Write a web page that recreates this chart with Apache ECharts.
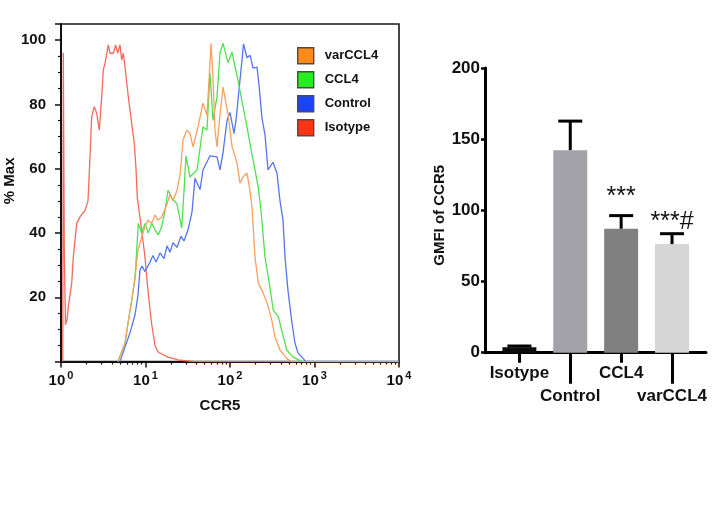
<!DOCTYPE html>
<html><head><meta charset="utf-8">
<script src="https://cdn.jsdelivr.net/npm/echarts@6/dist/echarts.min.js"></script>
<style>html,body{margin:0;padding:0;background:#fff}#c{width:720px;height:507px}</style>
</head><body><div id="c"></div>
<script>
// ---- Histogram data: [CCR5 intensity, % Max] ----
const histIsotype = [[1.05,0],[1.065,96],[1.094,34],[1.13,11.5],[1.178,13],[1.22,17],[1.339,24.4],[1.398,32.5],[1.534,43],[1.678,45],[1.923,47],[2.087,50],[2.204,63.7],[2.308,76.2],[2.478,79.3],[2.646,77.2],[2.84,72],[3.032,82.4],[3.168,90.7],[3.317,92.8],[3.629,98.5],[3.80,95.9],[4.159,95.9],[4.441,98.5],[4.688,95.9],[4.99,98.5],[5.23,93.8],[5.461,95.9],[5.72,91.7],[6.26,82.4],[6.866,74.1],[7.37,67.9],[7.72,60],[8.0,51],[8.38,47],[9.09,40],[9.86,32.5],[10.7,22],[11.78,12],[12.95,5],[14.06,3],[18.46,1.4],[24.26,0.5],[38.5,0],[10000,0]];
const histControl = [[4.99,0],[5.72,4.5],[6.556,9],[7.51,14.5],[8.15,20.7],[8.61,28.5],[9.09,29.7],[9.86,28],[11.31,31],[12.27,33],[13.31,31],[14.85,33.8],[16.56,32],[17.97,36],[19.5,34],[21.16,37],[23.6,35.5],[26.3,39],[28.55,37.5],[31.84,41],[35.5,46.5],[38.5,57],[44.2,53.5],[47.9,59.6],[58.0,64],[70.2,63.7],[76.2,59.6],[82.7,65],[92.1,75],[100,77.5],[111.5,71],[117.8,75],[127.8,84.5],[138.7,93.8],[144.5,98.8],[158.9,94.5],[172.5,95.3],[187.2,91.3],[208.7,91.6],[220.4,86],[239.1,75.7],[259.6,70.5],[281.7,59.6],[322.8,62],[359.9,58.6],[390.6,50],[423.9,44],[447.7,32.5],[485.8,22],[541.6,12],[587.8,5.7],[637.9,2.7],[731,1],[793,0],[10000,0]];
const histCCL4 = [[4.728,0],[5.72,5.7],[6.21,12],[6.866,19],[7.51,26],[7.87,34.7],[8.22,43],[9.02,40],[9.86,43],[10.79,40],[11.84,43],[12.95,41],[14.17,39.4],[15.55,42],[17.02,47],[18.46,53.3],[20.59,51],[23.6,49],[26.82,41.5],[28.55,53],[30.16,64],[33.62,57.4],[40.7,59.6],[47.9,73],[53.4,72],[58.0,89.7],[62.9,75],[70.2,82.4],[76.2,96],[82.7,99],[94.7,93],[105.6,96.3],[114.6,91.7],[121.0,89],[138.7,81],[158.9,73],[177.3,66],[197.7,59.6],[216.3,54],[232.8,47],[259.6,32.5],[284.0,26.3],[325.4,16],[372.9,14],[409.1,9.8],[468.8,3.6],[561.2,1.4],[711,0],[10000,0]];
const histVarCCL4 = [[4.728,0],[5.72,5.7],[6.21,12],[6.866,19],[7.51,26],[8.15,34.7],[8.85,38],[9.86,42],[10.7,44],[11.84,43],[12.95,45.6],[14.06,44],[15.55,45],[17.82,48.7],[19.5,52],[21.16,50],[23.6,53.3],[25.6,58],[27.8,69],[30.98,72],[33.62,71],[36.5,66.7],[41.8,73],[47.9,80.4],[53.4,76.5],[58.0,93],[59.6,99],[62.9,88.5],[66.45,72],[70.2,66.8],[76.2,77],[82.7,85.4],[94.7,77],[105.6,67],[121.0,61.8],[131.3,55.5],[142.5,57.5],[158.9,58.6],[172.5,53],[182.1,48],[197.7,32.5],[216.3,24.4],[247.9,21.3],[284.0,17],[311.5,13],[340.9,7.7],[390.6,3.6],[468.8,1],[527,0],[10000,0]];
const histTickSup = ['0','1','2','3','4'];
const histMinorMult = [2,3,4,5,6,7,8,9];
const histDecades = [0,1,2,3];

// ---- Bar chart data ----
const barCategories = ['Isotype','Control','CCL4','varCCL4'];
const barMeans = [3.8, 142.3, 87.1, 76.3];
const barErrors = [0.9, 20.4, 9.2, 7.3];
const barSig = ['', '', '***', '***#'];

// styles
const FONT = 'Liberation Sans, Arial, sans-serif';
const barColors = ['#0c0c0c', '#a2a2a8', '#808080', '#d5d5d5'];
const sigGap = [0, 0, 19, 12];
const lineColors = { Isotype:'#f26a5a', Control:'#5575ee', CCL4:'#4fe04f', varCCL4:'#f8a060' };
const legendColors = { varCCL4:'#ff8a1e', CCL4:'#22ee22', Control:'#1a44ff', Isotype:'#ff3414' };

const minorTicks = [];
histDecades.forEach(k => histMinorMult.forEach(m => minorTicks.push(Math.log10(m) + k)));

const chart = echarts.init(document.getElementById('c'));
const lineSeries = (name, data) => ({
  name, type:'line', data, xAxisIndex:0, yAxisIndex:0, showSymbol:false, symbol:'none',
  lineStyle:{ color: lineColors[name], width:1.3 }, itemStyle:{ color: lineColors[name] },
  animation:false
});

chart.setOption({
  animation:false,
  backgroundColor:'#fff',
  grid:[
    { left:61, right:321, top:24, bottom:145.4, show:true, borderColor:'#1a1a1a', borderWidth:1.6, containLabel:false },
    { left:485, right:14, top:68, bottom:154.3, containLabel:false }
  ],
  legend:{
    orient:'vertical', left:297, top:47, padding:0, itemWidth:16, itemHeight:16, itemGap:6.6,
    icon:'rect', selectedMode:false,
    itemStyle:{ borderColor:'#55483f', borderWidth:1.4 },
    textStyle:{ fontFamily:FONT, fontWeight:'bold', fontSize:13, color:'#111', padding:[0,0,0,6] },
    data: ['varCCL4','CCL4','Control','Isotype'].map(n => ({ name:n, itemStyle:{ color: legendColors[n] } }))
  },
  xAxis:[
    { gridIndex:0, type:'log', logBase:10, min:1, max:10000, position:'bottom',
      axisLine:{ onZero:false, lineStyle:{ color:'#111', width:2 } },
      axisTick:{ show:true, length:6, lineStyle:{ color:'#111', width:1.5 } },
      splitLine:{ show:false }, minorTick:{ show:false },
      axisLabel:{ margin:9, color:'#111',
        formatter: v => '{b|10}{s|' + histTickSup[Math.round(Math.log10(v))] + '}',
        rich:{ b:{ fontFamily:FONT, fontWeight:'bold', fontSize:15, color:'#111' },
               s:{ fontFamily:FONT, fontWeight:'bold', fontSize:11, color:'#111', padding:[0,0,9,2] } } },
      name:'CCR5', nameLocation:'middle', nameGap:37,
      nameTextStyle:{ fontFamily:FONT, fontWeight:'bold', fontSize:15, color:'#111', padding:[0,20,0,0] }
    },
    { gridIndex:0, type:'value', min:0, max:4, position:'bottom',
      axisLine:{ show:false, onZero:false }, axisLabel:{ show:false }, splitLine:{ show:false },
      axisTick:{ show:true, length:3, customValues:minorTicks, lineStyle:{ color:'#111', width:1.2 } }
    },
    { gridIndex:1, type:'value', min:-0.676, max:3.668, position:'bottom',
      axisLine:{ onZero:false, lineStyle:{ color:'#000', width:3 } },
      splitLine:{ show:false },
      axisTick:{ show:true, length:10, customValues:[0,1,2,3], lineStyle:{ color:'#000', width:3 } },
      axisLabel:{ customValues:[0,2], margin:12, formatter: v => barCategories[Math.round(v)],
        fontFamily:FONT, fontWeight:'bold', fontSize:17, color:'#111' }
    },
    { gridIndex:1, type:'value', min:-0.676, max:3.668, position:'bottom',
      axisLine:{ show:false, onZero:false }, splitLine:{ show:false },
      axisTick:{ show:true, length:31, customValues:[1,3], lineStyle:{ color:'#000', width:3 } },
      axisLabel:{ customValues:[1,3], margin:35, formatter: v => barCategories[Math.round(v)],
        fontFamily:FONT, fontWeight:'bold', fontSize:17, color:'#111' }
    }
  ],
  yAxis:[
    { gridIndex:0, type:'value', min:0, max:105, interval:20, position:'left',
      axisLine:{ show:true, onZero:false, lineStyle:{ color:'#111', width:2 } },
      axisTick:{ show:true, length:6, lineStyle:{ color:'#111', width:1.5 } },
      minorTick:{ show:true, splitNumber:4, length:3, lineStyle:{ color:'#111', width:1.2 } },
      splitLine:{ show:false },
      axisLabel:{ showMinLabel:false, showMaxLabel:false, margin:15,
        fontFamily:FONT, fontWeight:'bold', fontSize:15, color:'#111' },
      name:'% Max', nameLocation:'middle', nameGap:38,
      nameTextStyle:{ fontFamily:FONT, fontWeight:'bold', fontSize:15, color:'#111', padding:[0,0,0,24] }
    },
    { gridIndex:1, type:'value', min:0, max:200, interval:50, position:'left',
      axisLine:{ show:true, onZero:false, lineStyle:{ color:'#000', width:3 } },
      axisTick:{ show:true, length:4, lineStyle:{ color:'#000', width:2.5 } },
      splitLine:{ show:false },
      axisLabel:{ margin:5, fontFamily:FONT, fontWeight:'bold', fontSize:17, color:'#111' },
      name:'GMFI of CCR5', nameLocation:'middle', nameGap:36,
      nameTextStyle:{ fontFamily:FONT, fontWeight:'bold', fontSize:15, color:'#111', padding:[0,10,0,0] }
    }
  ],
  series:[
    lineSeries('Isotype', histIsotype),
    lineSeries('Control', histControl),
    lineSeries('CCL4', histCCL4),
    lineSeries('varCCL4', histVarCCL4),
    { type:'bar', xAxisIndex:2, yAxisIndex:1, barWidth:34,
      data: barMeans.map((m,i) => ({ value:[i, m], itemStyle:{ color: barColors[i] } })) },
    { type:'custom', xAxisIndex:2, yAxisIndex:1, z:5,
      data: barMeans.map((m,i) => [i, m, barErrors[i]]),
      encode:{ x:0, y:1 },
      renderItem:(params, api) => {
        const i = api.value(0), m = api.value(1), e = api.value(2);
        const b = api.coord([i, m]), t = api.coord([i, m + e]);
        const children = [
          { type:'line', shape:{ x1:b[0], y1:b[1], x2:t[0], y2:t[1] }, style:{ stroke:'#000', lineWidth:3 } },
          { type:'line', shape:{ x1:t[0]-12, y1:t[1], x2:t[0]+12, y2:t[1] }, style:{ stroke:'#000', lineWidth:3 } }
        ];
        if (barSig[i]) children.push({ type:'text', style:{ text:barSig[i], x:t[0], y:t[1]-sigGap[i],
          align:'center', verticalAlign:'middle', fontFamily:FONT, fontSize:25, fill:'#111' } });
        return { type:'group', children };
      }
    }
  ]
});
</script></body></html>
